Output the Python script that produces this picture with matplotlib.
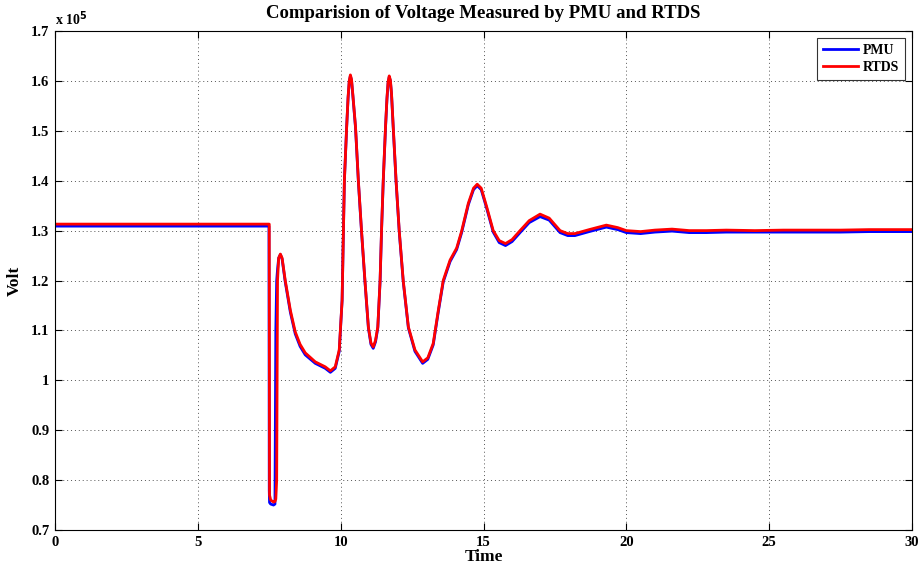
import matplotlib
matplotlib.use("Agg")
import matplotlib.pyplot as plt

# ---- data (voltage in units of 1e5 V) ----
time = [0.0, 7.49, 7.50, 7.51, 7.55, 7.65, 7.70, 7.73, 7.76, 7.79, 7.83, 7.89, 7.95,
        8.06, 8.24, 8.41, 8.58, 8.76, 9.11, 9.46, 9.64, 9.81, 9.95, 10.05, 10.13,
        10.21, 10.26, 10.30, 10.34, 10.38, 10.43, 10.52, 10.62, 10.73, 10.85, 10.97, 11.06, 11.14,
        11.22, 11.30, 11.38, 11.43, 11.49, 11.57, 11.62, 11.66, 11.70, 11.74, 11.78, 11.84, 11.94,
        12.05, 12.19, 12.37, 12.60, 12.87, 13.05, 13.24, 13.42, 13.59, 13.83, 14.06,
        14.23, 14.47, 14.65, 14.78, 14.92, 15.11, 15.34, 15.55, 15.77, 16.00, 16.28,
        16.60, 16.98, 17.30, 17.68, 17.95, 18.20, 18.70, 19.30, 19.70, 20.00, 20.50,
        21.00, 21.60, 22.20, 22.80, 23.50, 24.50, 25.50, 26.50, 27.50, 28.50, 30.00]

rtds = [1.313, 1.313, 1.313, 0.770, 0.760, 0.756, 0.757, 0.762, 0.800, 1.200, 1.245, 1.253, 1.245,
        1.200, 1.140, 1.097, 1.072, 1.055, 1.037, 1.027, 1.019, 1.027, 1.061, 1.160, 1.400,
        1.508, 1.568, 1.600, 1.612, 1.603, 1.570, 1.508, 1.400, 1.300, 1.200, 1.107, 1.075, 1.067,
        1.080, 1.107, 1.200, 1.300, 1.400, 1.508, 1.565, 1.598, 1.610, 1.602, 1.575, 1.508, 1.400,
        1.300, 1.200, 1.107, 1.061, 1.037, 1.045, 1.074, 1.141, 1.200, 1.241, 1.265,
        1.298, 1.355, 1.385, 1.393, 1.385, 1.348, 1.300, 1.280, 1.274, 1.282, 1.300,
        1.320, 1.333, 1.325, 1.300, 1.294, 1.294, 1.302, 1.311, 1.306, 1.300, 1.298,
        1.301, 1.303, 1.300, 1.300, 1.301, 1.300, 1.301, 1.301, 1.301, 1.302, 1.302]

pmu = [1.309, 1.309, 0.780, 0.755, 0.752, 0.750, 0.752, 1.100, 1.200, 1.222, 1.245, 1.252, 1.243,
       1.197, 1.136, 1.093, 1.068, 1.051, 1.034, 1.024, 1.016, 1.024, 1.058, 1.160, 1.400,
       1.508, 1.566, 1.598, 1.610, 1.601, 1.568, 1.506, 1.398, 1.298, 1.198, 1.105, 1.072, 1.064,
       1.077, 1.105, 1.198, 1.298, 1.398, 1.506, 1.563, 1.596, 1.608, 1.600, 1.573, 1.506, 1.398,
       1.298, 1.198, 1.105, 1.058, 1.034, 1.042, 1.071, 1.138, 1.197, 1.238, 1.262,
       1.295, 1.352, 1.382, 1.390, 1.382, 1.345, 1.297, 1.276, 1.270, 1.278, 1.296,
       1.316, 1.328, 1.321, 1.296, 1.290, 1.290, 1.298, 1.307, 1.302, 1.296, 1.294,
       1.297, 1.299, 1.296, 1.296, 1.297, 1.297, 1.297, 1.297, 1.297, 1.298, 1.298]

x_ticks = [0, 5, 10, 15, 20, 25, 30]
y_ticks = [0.7, 0.8, 0.9, 1.0, 1.1, 1.2, 1.3, 1.4, 1.5, 1.6, 1.7]
y_tick_labels = ["0.7", "0.8", "0.9", "1", "1.1", "1.2", "1.3", "1.4", "1.5", "1.6", "1.7"]

plt.rcParams['font.family'] = ['Liberation Serif', 'DejaVu Serif']
plt.rcParams['font.weight'] = 'bold'

fig = plt.figure(figsize=(9.19, 5.71), dpi=100)
ax = fig.add_axes([55/919, 41/571, 857/919, 499/571])

ax.plot(time, pmu, color='#0000ff', lw=2.0, label='PMU')
ax.plot(time, rtds, color='#ff0000', lw=2.0, label='RTDS')

ax.set_xlim(0, 30)
ax.set_ylim(0.7, 1.7)
ax.set_xticks(x_ticks)
ax.set_xticklabels([str(v) for v in x_ticks], fontsize=10.5, fontweight='bold')
ax.set_yticks(y_ticks)
ax.set_yticklabels(y_tick_labels, fontsize=10.5, fontweight='bold')
ax.tick_params(direction='in', length=5, width=0.8, top=True, right=True, pad=4)

ax.grid(True, linestyle=(0, (1, 3)), color='#555555', linewidth=0.7)
for s in ax.spines.values():
    s.set_linewidth(0.8)
    s.set_color('black')

ax.set_title('Comparision of Voltage Measured by PMU and RTDS', fontsize=13.5,
             fontweight='bold', pad=9)
ax.set_xlabel('Time', fontsize=12.5, fontweight='bold', labelpad=0)
ax.set_ylabel('Volt', fontsize=12.5, fontweight='bold', labelpad=6)
ax.text(0.0, 1.006, r'x 10$^{5}$', transform=ax.transAxes, fontsize=10,
        fontweight='bold', ha='left', va='bottom')

leg = ax.legend(loc='upper right', fontsize=10, frameon=True, fancybox=False,
                edgecolor='black', borderaxespad=0.5, handlelength=2.5,
                handletextpad=0.4, borderpad=0.4, labelspacing=0.35)
leg.get_frame().set_linewidth(0.8)
for t in leg.get_texts():
    t.set_fontweight('bold')

fig.savefig('out.png', dpi=100)
